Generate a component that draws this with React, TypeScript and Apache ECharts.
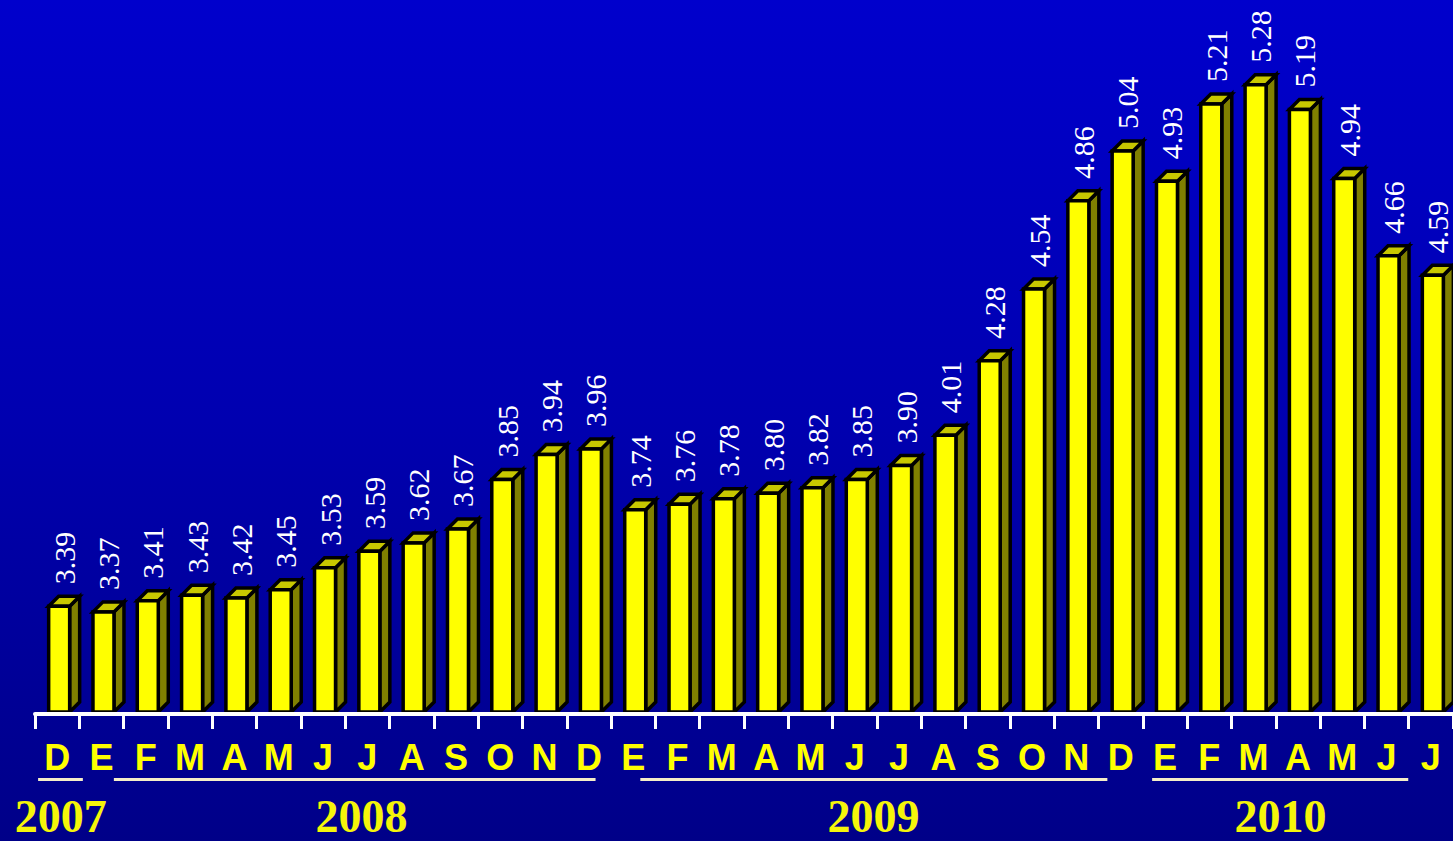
import React, { useEffect, useRef } from "react";
import * as echarts from "echarts";

const months = ["D","E","F","M","A","M","J","J","A","S","O","N","D","E","F","M","A","M","J","J","A","S","O","N","D","E","F","M","A","M","J","J"];
const values = [3.39,3.37,3.41,3.43,3.42,3.45,3.53,3.59,3.62,3.67,3.85,3.94,3.96,3.74,3.76,3.78,3.80,3.82,3.85,3.90,4.01,4.28,4.54,4.86,5.04,4.93,5.21,5.28,5.19,4.94,4.66,4.59];
const years = ["2007","2008","2009","2010"];
const yearCenters = [0.08, 6.87, 18.42, 27.61];
const underlineFrom = [-0.43, 1.28, 13.16, 24.71];
const underlineTo = [0.58, 12.15, 23.7, 30.49];

const SERIF = "'Liberation Serif', 'Times New Roman', serif";
const DEPTH = 10;

export default function App() {
  const ref = useRef<HTMLDivElement>(null);
  useEffect(() => {
    const chart = echarts.init(ref.current!, null, { renderer: "svg" });
    const option: any = {
      animation: false,
      backgroundColor: "transparent",
      grid: { left: 35, top: 24, bottom: 127, width: 1424 },
      xAxis: {
        type: "category",
        data: months,
        axisLine: { show: true, lineStyle: { color: "#ffffff", width: 4 } },
        axisTick: { show: true, alignWithLabel: false, interval: 0, length: 15, lineStyle: { color: "#ffffff", width: 3 } },
        axisLabel: {
          interval: 0,
          color: "#ffff00",
          fontWeight: "bold",
          fontSize: 36,
          fontFamily: "'Liberation Sans', Arial, sans-serif",
          margin: 25,
        },
        z: 5,
      },
      yAxis: { type: "value", min: 3, max: 5.5, show: false, splitLine: { show: false } },
      series: [
        {
          type: "custom",
          data: values.map((v, i) => [i, v]),
          clip: false,
          z: 2,
          renderItem: (params: any, api: any) => {
            const idx = api.value(0);
            const v = api.value(1);
            const top = api.coord([idx, v]);
            const base = api.coord([idx, 3]);
            const fw = 21;
            const d = DEPTH;
            const cx = top[0] + 2;
            const x0 = cx - fw / 2;
            const x1 = cx + fw / 2;
            const yT = top[1];
            const yB = base[1] - 2;
            const stroke = { stroke: "#000000", lineWidth: 3.5, lineJoin: "miter" };
            return {
              type: "group",
              children: [
                {
                  type: "polygon",
                  shape: { points: [[x1, yT], [x1 + d, yT - d], [x1 + d, yB - d], [x1, yB]] },
                  style: { fill: "#808000", ...stroke },
                },
                {
                  type: "polygon",
                  shape: { points: [[x0, yT], [x1, yT], [x1 + d, yT - d], [x0 + d, yT - d]] },
                  style: { fill: "#c8c800", ...stroke },
                },
                {
                  type: "rect",
                  shape: { x: x0, y: yT, width: fw, height: yB - yT },
                  style: { fill: "#ffff00", ...stroke },
                },
              ],
            };
          },
        },
      ],
    };
    chart.setOption(option);
    const p0 = chart.convertToPixel({ xAxisIndex: 0 }, 0) as number;
    const p1 = chart.convertToPixel({ xAxisIndex: 0 }, 1) as number;
    const px = (t: number) => p0 + (p1 - p0) * t;
    const graphics: any[] = [];
    values.forEach((v, i) => {
      const pt = chart.convertToPixel({ xAxisIndex: 0, yAxisIndex: 0 }, [i, v]) as number[];
      graphics.push({
        type: "text",
        x: pt[0] + 7,
        y: pt[1] - DEPTH - 12,
        rotation: Math.PI / 2,
        z: 10,
        style: {
          text: v.toFixed(2),
          fill: "#ffffff",
          fontSize: 30,
          fontFamily: SERIF,
          align: "left",
          verticalAlign: "middle",
        },
      });
    });
    years.forEach((y, i) => {
      graphics.push({
        type: "rect",
        shape: { x: px(underlineFrom[i]), y: 778, width: px(underlineTo[i]) - px(underlineFrom[i]), height: 3 },
        style: { fill: "#f5eec8" },
      });
      graphics.push({
        type: "text",
        x: px(yearCenters[i]),
        y: 816,
        style: {
          text: y,
          fill: "#f5f50a",
          fontSize: 46,
          fontWeight: "bold",
          fontFamily: SERIF,
          align: "center",
          verticalAlign: "middle",
        },
      });
    });
    chart.setOption({ graphic: graphics });
    return () => chart.dispose();
  }, []);
  return (
    <div
      style={{
        position: "fixed",
        left: 0,
        top: 0,
        width: 1453,
        height: 841,
        background: "linear-gradient(to bottom, #0000cc 0%, #0000b0 50%, #000088 100%)",
      }}
    >
      <div ref={ref} style={{ width: 1453, height: 841 }} />
    </div>
  );
}
